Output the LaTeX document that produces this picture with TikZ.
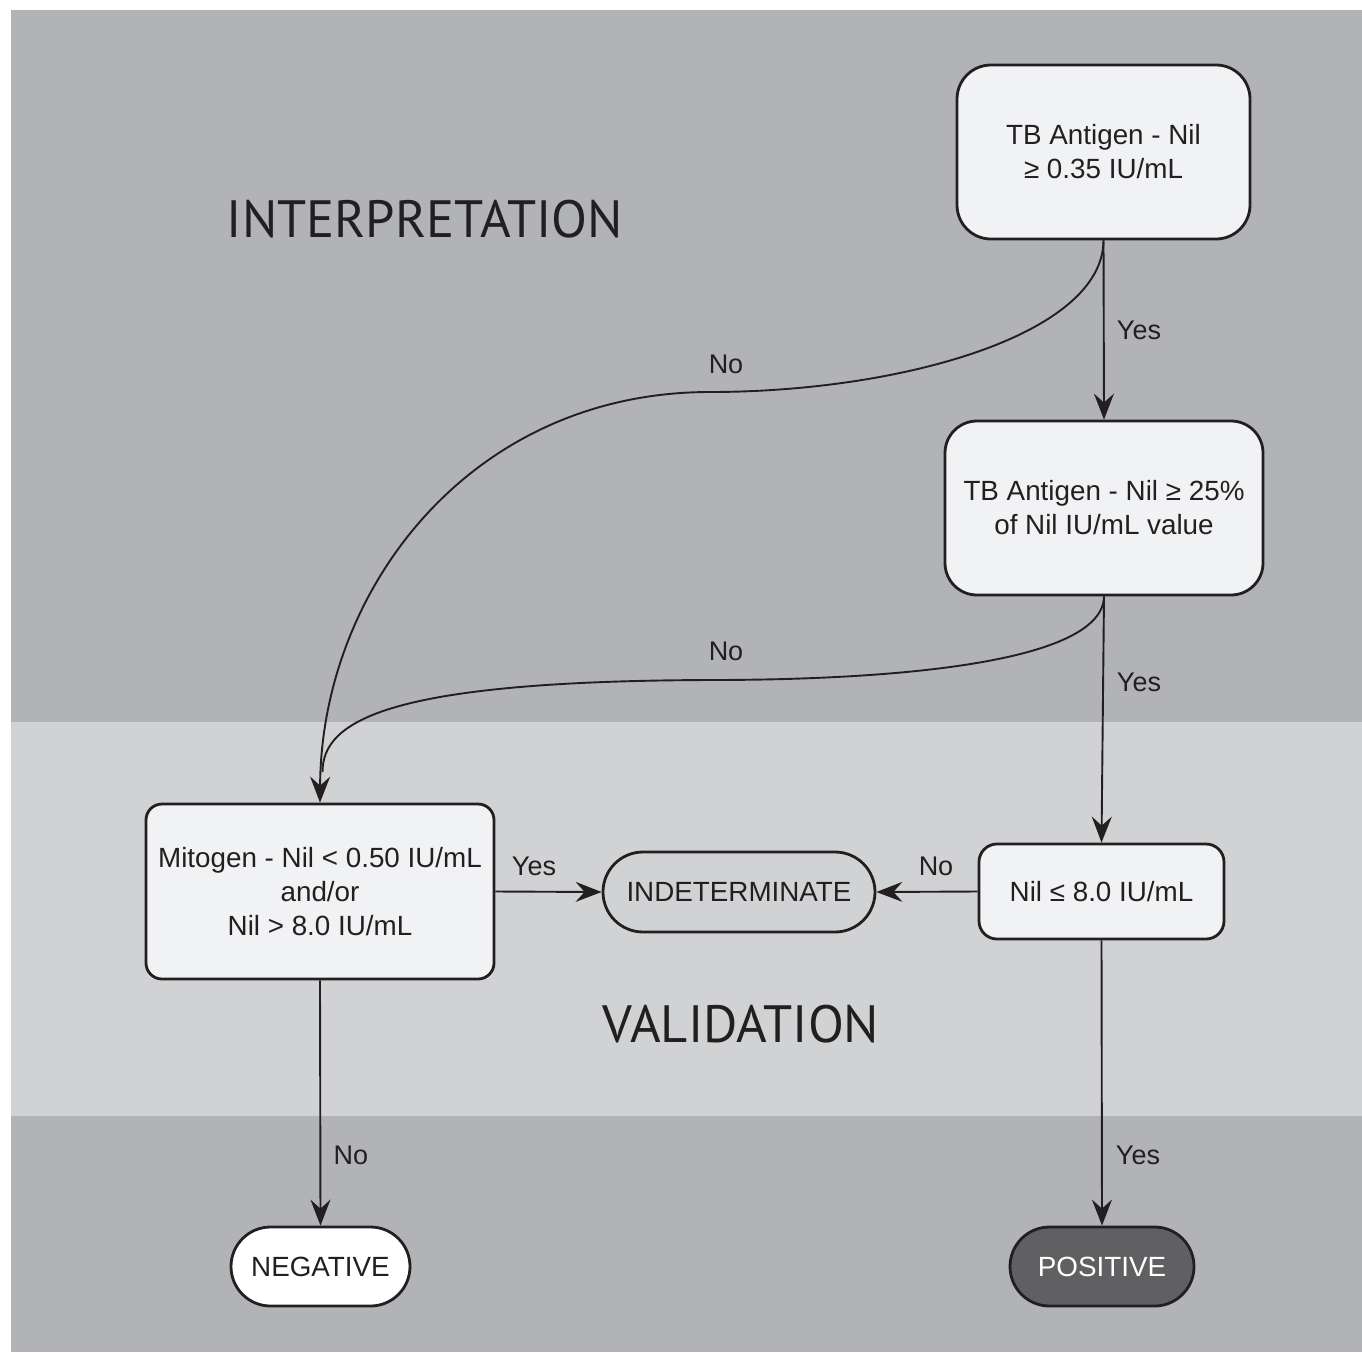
\documentclass[tikz,border=0pt]{standalone}
\usepackage{fontspec}
\setmainfont{Liberation Sans}
\newfontfamily\headfont{PT Sans}
\usetikzlibrary{arrows.meta,shapes.misc}
\definecolor{bandDark}{HTML}{B2B3B6}
\definecolor{bandLight}{HTML}{D1D2D4}
\definecolor{boxFill}{HTML}{F1F2F4}
\definecolor{inkC}{HTML}{231F20}
\definecolor{posFill}{HTML}{606062}
\tikzset{
  boxst/.style={draw=inkC, line width=2.8pt, fill=boxFill, rectangle, inner sep=0pt, align=center,
     text=inkC, font=\fontsize{27.8}{34}\selectfont},
  pillst/.style={draw=inkC, line width=2.8pt, rounded rectangle, inner sep=0pt, align=center,
     text=inkC, font=\fontsize{27.8}{34}\selectfont},
  conn/.style={draw=inkC, line width=1.9pt, -{Stealth[length=26pt,width=20pt,inset=9pt]}},
  lab/.style={text=inkC, font=\fontsize{27}{30}\selectfont, inner sep=0pt},
  head/.style={text=inkC, font=\headfont\fontsize{52.5}{60}\selectfont, inner sep=0pt}
}
\begin{document}
\begin{tikzpicture}[x=1pt,y=-1pt]
\useasboundingbox (0,0) rectangle (1362,1352);
\fill[white] (0,0) rectangle (1362,1352);
\fill[bandDark] (11,10) rectangle (1362,722);
\fill[bandLight] (11,722) rectangle (1362,1116);
\fill[bandDark] (11,1116) rectangle (1362,1352);

\node[head] (hint) at (425,219) {INTERPRETATION};
\node[head] (hval) at (741,1024) {VALIDATION};

\node[boxst, minimum width=293pt, minimum height=174pt, rounded corners=34pt] (tb1) at (1103.5,152)
  {TB Antigen - Nil\\≥ 0.35 IU/mL};
\node[boxst, minimum width=318pt, minimum height=174pt, rounded corners=32pt] (tb2) at (1104,508)
  {TB Antigen - Nil ≥ 25\%\\of Nil IU/mL value};
\node[boxst, minimum width=348pt, minimum height=175pt, rounded corners=16pt] (mit) at (320,891.5)
  {Mitogen - Nil < 0.50 IU/mL\\and/or\\Nil > 8.0 IU/mL};
\node[pillst, fill=bandLight, minimum width=272pt, minimum height=80pt] (ind) at (739,892)
  {INDETERMINATE};
\node[boxst, minimum width=245pt, minimum height=95pt, rounded corners=18pt] (nil) at (1101.5,891.5)
  {Nil ≤ 8.0 IU/mL};
\node[pillst, fill=white, minimum width=179pt, minimum height=79pt] (neg) at (320.5,1266.5)
  {NEGATIVE};
\node[pillst, fill=posFill, text=white, minimum width=184pt, minimum height=79pt] (pos) at (1102,1266.5)
  {POSITIVE};

% connectors
\draw[conn] (tb1.south) -- (tb2.north);
\draw[conn] (tb2.south) -- (nil.north);
\draw[conn] (nil.south) -- (pos.north);
\draw[conn] (mit.south) -- (neg.north);
\draw[conn] (mit.east) -- (ind.west);
\draw[conn] (nil.west) -- (ind.east);

\draw[conn] (tb1.south) .. controls (1103,335) and (900,392) .. (710,392)
  coordinate (mid1) .. controls (470,392) and (321,590) .. (mit.north);
\coordinate (join) at (322.5,772);
\draw[draw=inkC, line width=1.9pt] (tb2.south) .. controls (1103,662) and (900,680) .. (710,680)
  coordinate (mid2) .. controls (390,681) and (322.5,720) .. (join);

% labels
\node[lab] (l1) at (1139,330) {Yes};
\node[lab] (l2) at (726,364) {No};
\node[lab] (l3) at (726,651) {No};
\node[lab] (l4) at (1139,682) {Yes};
\node[lab] (l5) at (534,866) {Yes};
\node[lab] (l6) at (936,866) {No};
\node[lab] (l7) at (351,1155) {No};
\node[lab] (l8) at (1138,1155) {Yes};
\end{tikzpicture}
\end{document}
